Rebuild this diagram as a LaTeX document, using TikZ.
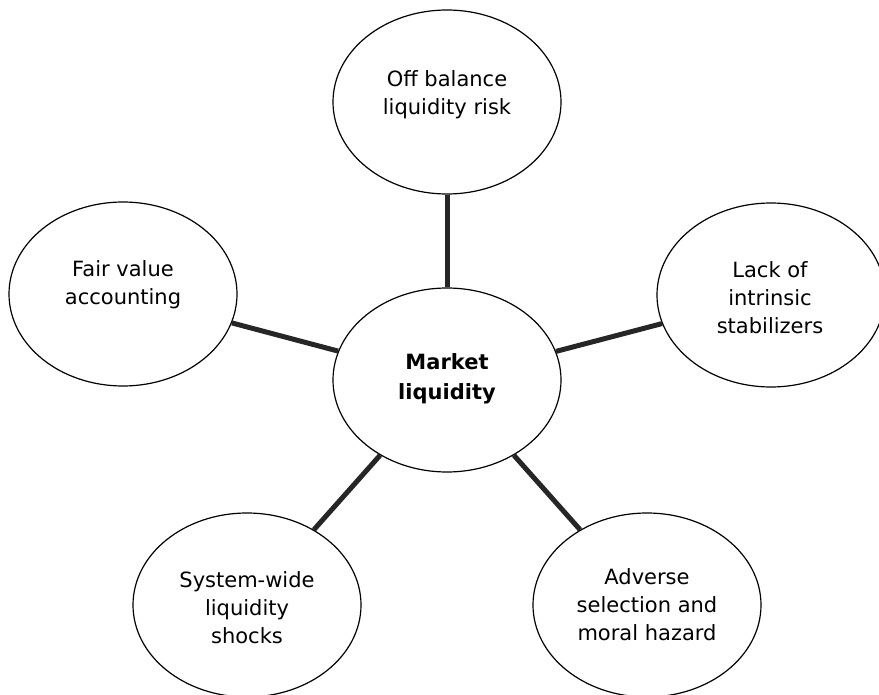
\documentclass[tikz,border=0pt]{standalone}
\usepackage{fontspec}
\setmainfont{DejaVu Sans}
\usepackage{tikz}
\usepackage{xcolor}
\usetikzlibrary{shapes.geometric}
\definecolor{spoke}{HTML}{262626}
\tikzstyle{bubble} = [ellipse, draw=black, line width=1.2pt, fill=white, minimum width=228pt, minimum height=184pt, inner sep=0pt]
\tikzstyle{blurb} = [align=center, inner sep=0pt, font=\fontsize{21}{28}\selectfont]

\begin{document}
\begin{tikzpicture}[x=1pt,y=-1pt,spoke/.style={draw=spoke,line width=5pt}]
  \useasboundingbox (0,0) rectangle (879,695);
  \node[bubble] (mkt) at (447,380) {};
  \node[bubble] (offbal) at (447,102) {};
  \node[bubble] (fair) at (123,294) {};
  \node[bubble] (lack) at (771,295) {};
  \node[bubble] (shocks) at (247,605) {};
  \node[bubble] (adverse) at (647,605) {};

  \node[blurb,font=\fontsize{21}{30}\selectfont\bfseries] (mkt_t) at (447,379) {Market\\liquidity};
  \node[blurb] (offbal_t) at (447,95) {Off balance\\liquidity risk};
  \node[blurb] (fair_t) at (123,285) {Fair value\\accounting};
  \node[blurb] (lack_t) at (770,298) {Lack of\\intrinsic\\stabilizers};
  \node[blurb] (shocks_t) at (247,608) {System-wide\\liquidity\\shocks};
  \node[blurb] (adverse_t) at (647,605) {Adverse\\selection and\\moral hazard};

  \path[spoke] (mkt) -- (offbal);
  \path[spoke] (mkt) -- (fair);
  \path[spoke] (mkt) -- (lack);
  \path[spoke] (mkt) -- (shocks);
  \path[spoke] (mkt) -- (adverse);
\end{tikzpicture}
\end{document}
